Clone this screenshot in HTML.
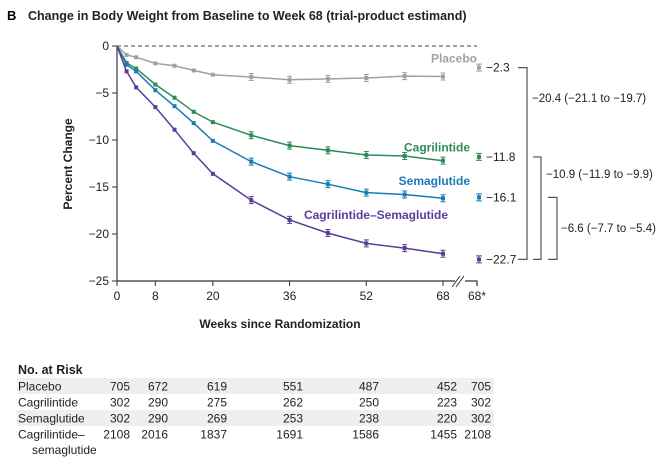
<!DOCTYPE html>
<html><head><meta charset="utf-8"><style>
body{margin:0;background:#fff;font-family:"Liberation Sans",sans-serif;}
svg text{font-family:"Liberation Sans",sans-serif;}
</style></head><body>
<svg width="663" height="468" viewBox="0 0 663 468">
<text x="7" y="20" font-size="13" font-weight="bold">B</text>
<text x="28" y="20" font-size="12.5" font-weight="bold" fill="#222">Change in Body Weight from Baseline to Week 68 (trial-product estimand)</text>
<g id="axes"></g>
<g id="series"></g>
<g id="right"></g>
<g id="table"></g>
</svg>
<script>
const weeks=[0,2,4,8,12,16,20,28,36,44,52,60,68];
const placebo=[0,-0.95,-1.2,-1.85,-2.1,-2.6,-3.05,-3.3,-3.6,-3.5,-3.4,-3.2,-3.25];
const cagrilintide=[0,-1.8,-2.4,-4.1,-5.5,-7.0,-8.1,-9.5,-10.6,-11.1,-11.6,-11.7,-12.2];
const semaglutide=[0,-2.0,-2.7,-4.7,-6.4,-8.2,-10.1,-12.3,-13.9,-14.7,-15.6,-15.8,-16.2];
const combo=[0,-2.7,-4.4,-6.5,-8.9,-11.4,-13.6,-16.4,-18.5,-19.9,-21.0,-21.5,-22.1];
const xTicks=[0,8,20,36,52,68];
const yTicks=[0,-5,-10,-15,-20,-25];
const finalVals=[-2.3,-11.8,-16.1,-22.7];
const finalLabels=["−2.3","−11.8","−16.1","−22.7"];
const riskRows=["Placebo","Cagrilintide","Semaglutide","Cagrilintide–"];
const riskPlacebo=[705,672,619,551,487,452,705];
const riskCagri=[302,290,275,262,250,223,302];
const riskSema=[302,290,269,253,238,220,302];
const riskCombo=[2108,2016,1837,1691,1586,1455,2108];

const NS="http://www.w3.org/2000/svg";
function X(w){return 117+w*(443-117)/68;}
function Y(v){return 46+(-v)*(281-46)/25;}
function mk(tag,attrs,parent,text){const e=document.createElementNS(NS,tag);for(const k in attrs)e.setAttribute(k,attrs[k]);if(text!==undefined)e.textContent=text;parent.appendChild(e);return e;}
const axes=document.getElementById('axes');
let e;
e=mk('line',{x1:117,y1:46,x2:477,y2:46,stroke:'#444','stroke-dasharray':'4,3','stroke-width':1},axes);


e=mk('line',{x1:117,y1:46,x2:117,y2:281,stroke:'#333','stroke-width':1.2},axes);


e=mk('line',{x1:117,y1:281,x2:455,y2:281,stroke:'#333','stroke-width':1.2},axes);


e=mk('path',{d:'M465 281 H477 V286',fill:'none',stroke:'#333','stroke-width':1.2},axes);


e=mk('path',{d:'M452 287 L460 276 M456 287 L464 276',fill:'none',stroke:'#333','stroke-width':1},axes);


yTicks.forEach(v=>{
 e=mk('line',{x1:112,y1:Y(v),x2:117,y2:Y(v),stroke:'#333'},axes);
 
 
 e=mk('text',{x:109,y:Y(v)+4,'font-size':12,'text-anchor':'end',fill:'#222'},axes,v===0?'0':'−'+(-v));
 
 
});
xTicks.forEach(w=>{
 e=mk('line',{x1:X(w),y1:281,x2:X(w),y2:286,stroke:'#333'},axes);
 
 
 e=mk('text',{x:X(w),y:300,'font-size':12,'text-anchor':'middle',fill:'#222'},axes,String(w));
 
 
});
e=mk('text',{x:477,y:300,'font-size':12,'text-anchor':'middle',fill:'#222'},axes,'68*');


e=mk('text',{x:0,y:0,'font-size':12,'font-weight':'bold','text-anchor':'middle',transform:'translate(72,164) rotate(-90)',fill:'#222'},axes,'Percent Change');


e=mk('text',{x:280,y:328,'font-size':12,'font-weight':'bold','text-anchor':'middle',fill:'#222'},axes,'Weeks since Randomization');



const ser=document.getElementById('series');
const defs=[[placebo,'#a0a0a0','Placebo','placebo',477,'end',Y(-2.3)-5],[cagrilintide,'#2e8b57','Cagrilintide','cagrilintide',470,'end',Y(-10.8)+4],[semaglutide,'#1a7bb5','Semaglutide','semaglutide',470,'end',Y(-15)-2],[combo,'#5b3d99','Cagrilintide–Semaglutide','cagrilintide-semaglutide',448,'end',Y(-18.6)-2]];
defs.forEach(([vals,col,label,nm,lx,anc,ly])=>{
 let d=vals.map((v,i)=>(i?'L':'M')+X(weeks[i]).toFixed(1)+' '+Y(v).toFixed(1)).join(' ');
 e=mk('path',{d:d,fill:'none',stroke:col,'stroke-width':1.5},ser);
 
 
 vals.forEach((v,i)=>{if(i===0)return;
  e=mk('g',{},ser);
  
  
  const x=X(weeks[i]),y=Y(v);
  if(i>=7){mk('path',{d:`M${x-2.5} ${y-3.5}H${x+2.5}M${x} ${y-3.5}V${y+3.5}M${x-2.5} ${y+3.5}H${x+2.5}`,stroke:col,'stroke-width':1,fill:'none'},e);}
  mk('rect',{x:x-2,y:y-2,width:4,height:4,fill:col},e);
 });
 e=mk('text',{x:lx,y:ly,'font-size':12,'font-weight':'bold','text-anchor':anc,fill:col},ser,label);
 
 
});

const rt=document.getElementById('right');
const cols=['#a0a0a0','#2e8b57','#1a7bb5','#5b3d99'];
finalVals.forEach((v,i)=>{
 const y=Y(v);
 e=mk('g',{},rt);
 
 
 mk('path',{d:`M476 ${y-3.5}H482M479 ${y-3.5}V${y+3.5}M476 ${y+3.5}H482`,stroke:cols[i],fill:'none'},e);
 mk('rect',{x:477,y:y-2,width:4,height:4,fill:cols[i]},e);
 e=mk('text',{x:486,y:y+4,'font-size':12,fill:'#222'},rt,finalLabels[i]);
 
 
});
const br=[[0,3,518,527,'−20.4 (−21.1 to −19.7)',532,102],[1,3,533,541,'−10.9 (−11.9 to −9.9)',546,178],[2,3,548,557,'−6.6 (−7.7 to −5.4)',561,232]];
br.forEach(([a,b,x0,x1,t,tx,ty])=>{
 const y0=Y(finalVals[a]),y1=Y(finalVals[b]);
 e=mk('path',{d:`M${x0} ${y0}H${x1}V${y1}H${x0-(a===0?0:0)}`,fill:'none',stroke:'#555','stroke-width':1.2},rt);
 
 
 e=mk('text',{x:tx,y:ty,'font-size':11.5,fill:'#222'},rt,t);
 
 
});

const tb=document.getElementById('table');
e=mk('text',{x:18,y:374,'font-size':12.5,'font-weight':'bold',fill:'#222'},tb,'No. at Risk');


const colX=[130,168,227,303,379,457,491];
const rows=[riskPlacebo,riskCagri,riskSema,riskCombo];
rows.forEach((r,i)=>{
 const y=378+i*16;
 if(i%2===0){e=mk('rect',{x:17,y:y,width:477,height:16,fill:'#efefef'},tb);
 
 }
 e=mk('text',{x:18,y:y+12.5,'font-size':12,fill:'#222'},tb,riskRows[i]);
 
 
 r.forEach((n,j)=>{
  e=mk('text',{x:colX[j],y:y+12.5,'font-size':12,'text-anchor':'end',fill:'#222'},tb,String(n));
  
  
 });
});
e=mk('text',{x:32,y:454,'font-size':12,fill:'#222'},tb,'semaglutide');


</script>
</body></html>
